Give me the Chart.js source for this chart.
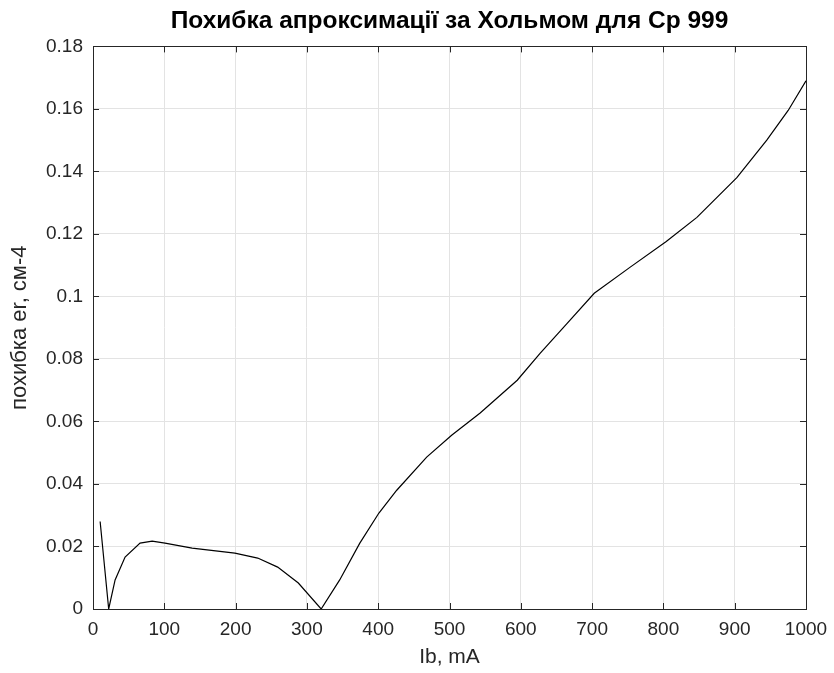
<!DOCTYPE html>
<html>
<head>
<meta charset="utf-8">
<script src="https://cdn.jsdelivr.net/npm/chart.js@4"></script>
<style>
    html, body { margin: 0; padding: 0; background: #fff; }
    #wrap { width: 834px; height: 673px; }
</style>
</head>
<body>
<div id="wrap"><canvas id="err-chart" width="834" height="673"></canvas></div>
<script>
// дані
const ibValues = [10, 22, 31, 45, 66, 83, 101, 139, 199, 231, 259, 288, 320, 346, 374, 401, 426, 468, 503, 543, 595, 627, 665, 703, 753, 804, 847, 903, 945, 975, 1000];
const erValues = [0.028, 0, 0.0093, 0.0166, 0.0211, 0.0217, 0.0211, 0.0195, 0.0179, 0.0163, 0.0134, 0.0083, 0, 0.0093, 0.021, 0.0307, 0.038, 0.0486, 0.0556, 0.0627, 0.0732, 0.0818, 0.0914, 0.101, 0.1093, 0.1176, 0.1253, 0.138, 0.150, 0.1595, 0.169];
const xTicks = [0, 100, 200, 300, 400, 500, 600, 700, 800, 900, 1000];
const yTicks = [0, 0.02, 0.04, 0.06, 0.08, 0.1, 0.12, 0.14, 0.16, 0.18];

const FONT = "'Liberation Sans', Arial, sans-serif";
const AXIS_COLOR = "#262626";

// рамка і внутрішні засічки як у MATLAB
const boxPlugin = {
    id: "box",
    afterDraw(chart) {
        const { ctx, chartArea: a, scales } = chart;
        const len = 6;
        ctx.save();
        ctx.strokeStyle = AXIS_COLOR;
        ctx.lineWidth = 1;
        ctx.beginPath();
        xTicks.forEach(v => {
            const x = Math.round(scales.x.getPixelForValue(v)) + 0.5;
            ctx.moveTo(x, a.bottom); ctx.lineTo(x, a.bottom - len);
            ctx.moveTo(x, a.top); ctx.lineTo(x, a.top + len);
        });
        yTicks.forEach(v => {
            const y = Math.round(scales.y.getPixelForValue(v)) + 0.5;
            ctx.moveTo(a.left, y); ctx.lineTo(a.left + len, y);
            ctx.moveTo(a.right, y); ctx.lineTo(a.right - len, y);
        });
        ctx.stroke();
        ctx.strokeRect(Math.round(a.left) + 0.5, Math.round(a.top) + 0.5,
            Math.round(a.right - a.left), Math.round(a.bottom - a.top));
        ctx.restore();
    }
};

const ctx = document.getElementById("err-chart").getContext("2d");
new Chart(ctx, {
    type: "scatter",
    data: {
        datasets: [{
            data: ibValues.map((x, i) => ({ x, y: erValues[i] })),
            showLine: true,
            borderColor: "#000",
            borderWidth: 1.2,
            pointRadius: 0,
            tension: 0,
        }],
    },
    options: {
        responsive: false,
        animation: false,
        layout: { padding: 0 },
        plugins: {
            legend: { display: false },
            tooltip: { enabled: false },
            title: {
                display: true,
                fullSize: false,
                text: "Похибка апроксимації за Хольмом для Ср 999",
                color: "#000",
                font: { family: FONT, size: 24.5, weight: "bold" },
                padding: { top: 7, bottom: 10 },
            },
        },
        scales: {
            x: {
                type: "linear",
                min: 0,
                max: 1000,
                afterBuildTicks: s => { s.ticks = xTicks.map(v => ({ value: v })); },
                afterFit: s => {
                    s.height = 64;
                    s.paddingLeft = 0;
                    s.paddingRight = 28;
                },
                ticks: {
                    color: AXIS_COLOR,
                    padding: 9,
                    autoSkip: false,
                    maxRotation: 0,
                    font: { family: FONT, size: 19 },
                    callback: v => String(v),
                },
                grid: { color: "#e3e3e3", drawTicks: false },
                border: { display: false },
                title: {
                    display: true,
                    text: "Ib, mA",
                    color: AXIS_COLOR,
                    font: { family: FONT, size: 21 },
                    padding: { top: 0, bottom: 3 },
                },
            },
            y: {
                type: "linear",
                min: 0,
                max: 0.18,
                afterBuildTicks: s => { s.ticks = yTicks.map(v => ({ value: v })); },
                afterFit: s => { s.width = 93; },
                ticks: {
                    color: AXIS_COLOR,
                    padding: 10,
                    autoSkip: false,
                    font: { family: FONT, size: 19 },
                    callback: v => String(Math.round(v * 100) / 100),
                },
                grid: { color: "#e3e3e3", drawTicks: false },
                border: { display: false },
                title: {
                    display: true,
                    text: "похибка er, см-4",
                    color: AXIS_COLOR,
                    font: { family: FONT, size: 22 },
                    padding: 7,
                },
            },
        },
    },
    plugins: [boxPlugin],
});
</script>
</body>
</html>
